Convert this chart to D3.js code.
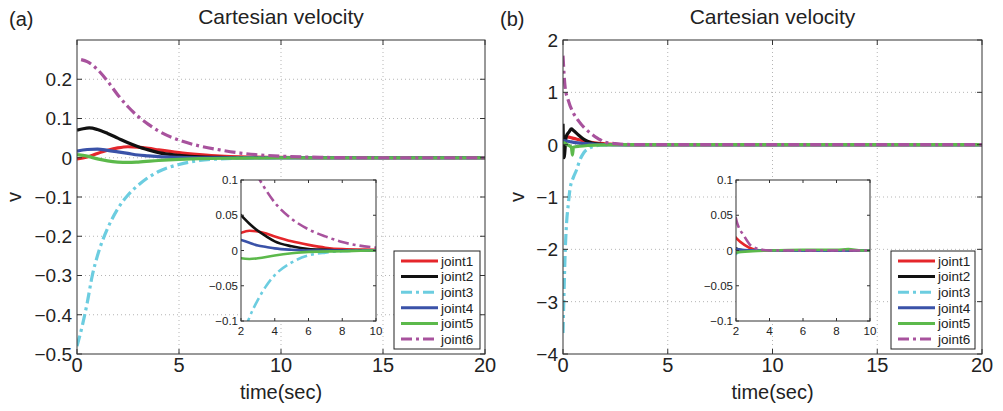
<!DOCTYPE html>
<html><head><meta charset="utf-8">
<script src="https://cdn.jsdelivr.net/npm/d3@7"></script>
<style>body{margin:0;background:#fff}svg{display:block;font-family:"Liberation Sans",Arial,sans-serif}</style>
</head><body><svg id="c" width="1003" height="411"></svg>
<script>
// ---- data ----
const seriesNames = ["joint1","joint2","joint3","joint4","joint5","joint6"];
const xTicksMain = [0,5,10,15,20];
const yTicksA = [-0.5,-0.4,-0.3,-0.2,-0.1,0,0.1,0.2];
const yTicksB = [-4,-3,-2,-1,0,1,2];
const xTicksInset = [2,4,6,8,10];
const yTicksInset = [-0.1,-0.05,0,0.05,0.1];

// panel (a)
const a_joint1 = [[0,-0.003],[0.5,0.002],[1,0.011],[1.5,0.019],[2,0.025],[2.5,0.028],[3,0.027],[3.5,0.024],[4,0.02],[5,0.013],[6,0.008],[7,0.004],[8,0.002],[10,0.001],[12,0],[20,0]];
const a_joint2 = [[0,0.07],[0.3,0.074],[0.6,0.076],[1,0.072],[1.5,0.062],[2,0.05],[2.5,0.038],[3,0.028],[3.5,0.02],[4,0.013],[5,0.006],[6,0.002],[7,0.001],[8,0],[20,0]];
const a_joint3 = [[0,-0.48],[0.25,-0.43],[0.5,-0.37],[0.75,-0.3],[1,-0.25],[1.5,-0.18],[2,-0.13],[2.5,-0.095],[3,-0.07],[3.5,-0.05],[4,-0.035],[5,-0.017],[6,-0.007],[7,-0.003],[8,-0.001],[10,0],[20,0]];
const a_joint4 = [[0,0.017],[0.5,0.021],[1,0.022],[1.5,0.019],[2,0.015],[2.5,0.011],[3,0.007],[3.5,0.005],[4,0.003],[5,0.001],[6,0],[20,0]];
const a_joint5 = [[0,0.008],[0.5,0.004],[1,-0.003],[1.5,-0.008],[2,-0.011],[2.5,-0.012],[3,-0.011],[4,-0.007],[5,-0.004],[6,-0.002],[8,-0.001],[10,0],[20,0]];
const a_joint6 = [[0.2,0.25],[0.5,0.245],[1,0.225],[1.5,0.195],[2,0.16],[2.5,0.13],[3,0.105],[3.5,0.085],[4,0.068],[5,0.045],[6,0.03],[7,0.02],[8,0.012],[9,0.007],[10,0.004],[11,0.002],[12,0.001],[14,0],[20,0]];

// panel (b)
const b_joint1 = [[0,0.1],[0.2,0.15],[0.5,0.12],[1,0.07],[1.5,0.035],[2,0.018],[2.5,0.008],[3,0.002],[3.5,0],[20,0]];
const b_joint2 = [[0,0.4],[0.05,-0.25],[0.15,0.15],[0.3,0.25],[0.4,0.3],[0.5,0.27],[0.75,0.18],[1,0.1],[1.25,0.05],[1.5,0.02],[2,0.003],[2.5,0],[20,0]];
const b_joint3 = [[0,-3.6],[0.05,-2.8],[0.1,-2.1],[0.17,-1.5],[0.25,-1.15],[0.33,-0.86],[0.5,-0.62],[0.65,-0.48],[0.8,-0.3],[1,-0.15],[1.25,-0.07],[1.5,-0.03],[2,-0.005],[2.5,0],[20,0]];
const b_joint4 = [[0,0.08],[0.3,0.06],[0.6,0.04],[1,0.02],[1.5,0.008],[2,0.002],[3,0],[20,0]];
const b_joint5 = [[0,0.05],[0.2,0],[0.4,-0.05],[0.45,-0.2],[0.5,-0.05],[0.8,-0.03],[1.2,-0.015],[2,-0.003],[3,-0.001],[4,0],[6,0.001],[8,0.001],[8.7,0.002],[9.5,0],[20,0]];
const b_joint6 = [[0,1.7],[0.1,1.1],[0.25,0.85],[0.5,0.6],[0.75,0.45],[1,0.33],[1.25,0.24],[1.5,0.16],[1.75,0.1],[2,0.045],[2.5,0.02],[3,0.005],[4,0],[20,0]];

const colors = ["#e5262b","#111111","#6ccde0","#3a52a8","#5cb94b","#a8529d"];
const dashes = [null,null,"11,4,3,4",null,null,"11,4,3,4"];

// ---- drawing ----
const svg = d3.select("#c");
const defs = svg.append("defs");
let clipId = 0;

function drawGrid(g, x, y, xt, yt) {
  const [x0,x1] = x.range(), [y1,y0] = y.range();
  g.append("g").selectAll("line").data(xt.filter(v=>v!==x.domain()[0]&&v!==x.domain()[1])).join("line")
    .attr("x1",d=>x(d)).attr("x2",d=>x(d)).attr("y1",y0).attr("y2",y1)
    .attr("stroke","#b5b5b5").attr("stroke-dasharray","1,3");
  g.append("g").selectAll("line").data(yt.filter(v=>v>y.domain()[0]&&v<y.domain()[1])).join("line")
    .attr("x1",x0).attr("x2",x1).attr("y1",d=>y(d)).attr("y2",d=>y(d))
    .attr("stroke","#b5b5b5").attr("stroke-dasharray","1,3");
}
function drawFrame(g, x, y, xt, yt, fsX, fsY, fmtY, fmtX, tickLen, yLabOff, xLabOff) {
  const [x0,x1] = x.range(), [y1,y0] = y.range();
  g.append("rect").attr("x",x0).attr("y",y0).attr("width",x1-x0).attr("height",y1-y0)
    .attr("fill","none").attr("stroke","#333").attr("stroke-width",1);
  const tk = g.append("g").attr("stroke","#333");
  xt.forEach(v=>{
    tk.append("line").attr("x1",x(v)).attr("x2",x(v)).attr("y1",y1).attr("y2",y1-tickLen);
    tk.append("line").attr("x1",x(v)).attr("x2",x(v)).attr("y1",y0).attr("y2",y0+tickLen);
  });
  yt.forEach(v=>{
    tk.append("line").attr("x1",x0).attr("x2",x0+tickLen).attr("y1",y(v)).attr("y2",y(v));
    tk.append("line").attr("x1",x1).attr("x2",x1-tickLen).attr("y1",y(v)).attr("y2",y(v));
  });
  g.append("g").selectAll("text").data(xt).join("text")
    .attr("x",d=>x(d)).attr("y",y1+xLabOff).attr("text-anchor","middle")
    .attr("font-size",fsX).attr("fill","#222").text(fmtX);
  g.append("g").selectAll("text").data(yt).join("text")
    .attr("x",x0-yLabOff).attr("y",d=>y(d)).attr("dy","0.36em").attr("text-anchor","end")
    .attr("font-size",fsY).attr("fill","#222").text(fmtY);
}
function drawSeries(g, x, y, data, lw) {
  const id = "clip"+(clipId++);
  const [x0,x1] = x.range(), [y1,y0] = y.range();
  defs.append("clipPath").attr("id",id).append("rect").attr("x",x0).attr("y",y0).attr("width",x1-x0).attr("height",y1-y0);
  const line = d3.line().x(d=>x(d[0])).y(d=>y(d[1])).curve(d3.curveMonotoneX);
  const sg = g.append("g").attr("clip-path",`url(#${id})`);
  data.forEach((s,i)=>{
    sg.append("path").attr("d",line(s)).attr("fill","none").attr("stroke",colors[i])
      .attr("stroke-width",lw).attr("stroke-dasharray",dashes[i]).attr("stroke-linejoin","round");
  });
}
const minus = s => s.replace("-","\u2212");

function panel(o) {
  const g = svg.append("g");
  const x = d3.scaleLinear().domain([0,20]).range([o.L,o.R]);
  const y = d3.scaleLinear().domain(o.yDom).range([354,40]);
  drawGrid(g,x,y,xTicksMain,o.yTicks);
  drawSeries(g,x,y,o.data,3.2);
  drawFrame(g,x,y,xTicksMain,o.yTicks,20,19,d=>minus(o.fmt(d)),d=>d,5,5,18);
  g.append("text").attr("x",(o.L+o.R)/2+(o.tOff||0)).attr("y",24).attr("text-anchor","middle").attr("font-size",21).attr("fill","#222").text("Cartesian velocity");
  g.append("text").attr("x",(o.L+o.R)/2).attr("y",399).attr("text-anchor","middle").attr("font-size",20).attr("fill","#222").text("time(sec)");
  g.append("text").attr("transform",`translate(${o.vx},197) rotate(-90)`).attr("text-anchor","middle").attr("dy","0.36em").attr("font-size",20).attr("fill","#222").text("v");
  g.append("text").attr("x",o.labX).attr("y",26).attr("font-size",20).attr("fill","#222").text(o.label);
  // inset
  const xi = d3.scaleLinear().domain([2,10]).range([o.iL,o.iR]);
  const yi = d3.scaleLinear().domain([-0.1,0.1]).range([321,180]);
  g.append("rect").attr("x",o.iL).attr("y",180).attr("width",o.iR-o.iL).attr("height",141).attr("fill","#fff");
  drawSeries(g,xi,yi,o.data,2.6);
  drawFrame(g,xi,yi,xTicksInset,yTicksInset,11.5,11.5,d=>minus(d===0?"0":String(d)),d=>d,3,3,14);
  // legend
  const lg = g.append("g").attr("transform",`translate(${o.lgX},251)`);
  lg.append("rect").attr("width",o.lgW).attr("height",98).attr("fill","#fff").attr("stroke","#222");
  seriesNames.forEach((n,i)=>{
    const yy = 10+i*15.6;
    lg.append("line").attr("x1",7).attr("x2",44).attr("y1",yy).attr("y2",yy)
      .attr("stroke",colors[i]).attr("stroke-width",3).attr("stroke-dasharray",dashes[i]);
    lg.append("text").attr("x",47).attr("y",yy).attr("dy","0.35em").attr("font-size",13.5).attr("fill","#222").text(n);
  });
}

panel({L:77,R:485,yDom:[-0.5,0.3],yTicks:yTicksA,fmt:d=>d===0?"0":d3.format(".1f")(d),
  data:[a_joint1,a_joint2,a_joint3,a_joint4,a_joint5,a_joint6],vx:14,labX:9,label:"(a)",
  iL:241,iR:376,lgX:394,lgW:86});
panel({L:563,R:982,yDom:[-4,2],yTicks:yTicksB,fmt:d=>String(d),
  data:[b_joint1,b_joint2,b_joint3,b_joint4,b_joint5,b_joint6],vx:517,labX:500,label:"(b)",
  iL:736,iR:870,lgX:891,lgW:84});
</script></body></html>
